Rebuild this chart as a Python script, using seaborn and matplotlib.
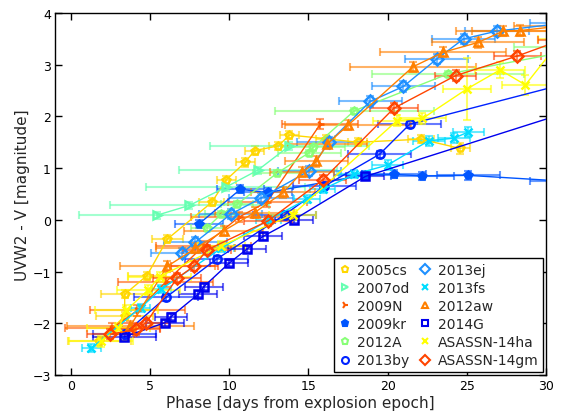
import matplotlib
matplotlib.use("Agg")
import matplotlib.pyplot as plt
from matplotlib.lines import Line2D
import seaborn as sns
import pandas as pd

sns.set_theme(style="ticks")
plt.rcParams['font.family'] = ['DejaVu Sans']
plt.rcParams['xtick.direction'] = 'in'
plt.rcParams['ytick.direction'] = 'in'
plt.rcParams['xtick.top'] = True
plt.rcParams['ytick.right'] = True

names = ["2005cs", "2007od", "2009N", "2009kr", "2012A", "2013by",
         "2013ej", "2013fs", "2012aw", "2014G", "ASASSN-14ha", "ASASSN-14gm"]
colors = ["#FFD700", "#66FFB2", "#FF5A00", "#0055FF", "#88FF77", "#0022FF",
          "#1E90FF", "#00DDFF", "#FF8000", "#0000EE", "#FFFF00", "#FF4400"]
markers = ["p", ">", "4", "p", "p", "o", "D", "x", "^", "s", "x", "D"]
filled = [False, False, True, True, False, False, False, True, False, False, True, False]

x_2005cs = [1.8, 3.4, 3.4, 4.8, 6.1, 8.9, 9.8, 11.0, 11.6, 13.1, 13.8, 16.1, 18.1, 22.1, 24.6]
y_2005cs = [-2.35, -1.86, -1.44, -1.08, -0.37, 0.34, 0.77, 1.11, 1.34, 1.43, 1.64, 1.57, 1.50, 1.56, 1.38]
xe_2005cs = [2.0, 1.8, 1.5, 1.2, 1.0, 0.8, 0.6, 0.6, 0.6, 0.6, 0.6, 0.6, 0.6, 0.8, 0.6]
ye_2005cs = [0.08, 0.08, 0.08, 0.08, 0.08, 0.08, 0.08, 0.08, 0.08, 0.08, 0.08, 0.08, 0.08, 0.08, 0.1]

x_2007od = [5.44, 7.49, 9.77, 11.8, 13.8]
y_2007od = [0.09, 0.28, 0.63, 0.96, 1.43]
xe_2007od = [4.9, 5.0, 5.0, 5.0, 5.0]
ye_2007od = [0.07, 0.07, 0.07, 0.07, 0.07]

x_2009N = [2.6, 4.2, 6.0, 8.4, 10.6, 12.4, 15.75]
y_2009N = [-2.1, -1.75, -1.2, -0.5, 0.05, 0.35, 1.85]
xe_2009N = [3.0, 3.0, 3.0, 3.0, 3.0, 2.5, 2.4]
ye_2009N = [0.1, 0.1, 0.1, 0.1, 0.1, 0.1, 0.1]

x_2009kr = [8.08, 10.7, 12.45, 18.6, 20.4, 22.2, 25.1, 31.0]
y_2009kr = [-0.08, 0.59, 0.53, 0.87, 0.88, 0.85, 0.86, 0.75]
xe_2009kr = [1.5, 1.5, 1.5, 2.0, 2.0, 2.0, 2.0, 2.0]
ye_2009kr = [0.08, 0.08, 0.08, 0.08, 0.08, 0.08, 0.08, 0.08]

x_2012A = [8.6, 9.5, 10.5, 13.0, 15.05, 15.3, 17.9, 23.8, 33.0]
y_2012A = [-0.15, 0.11, 0.30, 0.90, 1.30, 1.40, 2.11, 2.82, 3.35]
xe_2012A = [1.0, 1.0, 1.0, 1.5, 2.0, 2.0, 5.0, 4.8, 5.0]
ye_2012A = [0.06, 0.06, 0.06, 0.06, 0.06, 0.06, 0.06, 0.06, 0.06]

x_2013by = [3.4, 6.0, 9.2, 13.5, 16.0, 19.5, 21.4, 35.0]
y_2013by = [-2.2, -1.5, -0.76, 0.1, 0.65, 1.27, 1.85, 2.93]
xe_2013by = [2.0, 2.0, 2.0, 2.0, 2.0, 2.0, 2.0, 2.0]
ye_2013by = [0.07, 0.07, 0.07, 0.07, 0.07, 0.07, 0.07, 0.07]

x_2013ej = [7.03, 7.87, 10.1, 12.0, 15.05, 16.3, 18.9, 21.0, 23.1, 24.8, 26.9, 31.0]
y_2013ej = [-0.64, -0.43, 0.11, 0.42, 0.95, 1.50, 2.29, 2.58, 3.11, 3.50, 3.65, 3.80]
xe_2013ej = [2.0, 2.0, 2.0, 2.0, 2.0, 2.0, 2.0, 2.0, 2.0, 2.0, 2.0, 2.0]
ye_2013ej = [0.1, 0.1, 0.1, 0.1, 0.1, 0.1, 0.1, 0.1, 0.1, 0.1, 0.1, 0.1]

x_2013fs = [1.3, 4.4, 5.7, 9.5, 12.5, 14.9, 15.9, 17.9, 20.0, 22.6, 24.2, 25.1]
y_2013fs = [-2.48, -1.70, -1.34, -0.55, 0.0, 0.40, 0.59, 0.88, 1.06, 1.53, 1.58, 1.70]
xe_2013fs = [0.6, 0.6, 0.6, 0.8, 0.8, 0.8, 0.8, 1.0, 1.0, 1.0, 1.0, 1.0]
ye_2013fs = [0.08, 0.08, 0.08, 0.08, 0.08, 0.08, 0.08, 0.08, 0.1, 0.1, 0.1, 0.1]

x_2012aw = [3.76, 6.08, 7.87, 9.66, 11.6, 13.4, 14.6, 15.5, 16.2, 17.5, 21.6, 23.5, 25.7, 27.3, 28.35, 31.0]
y_2012aw = [-2.05, -0.90, -0.55, -0.21, 0.14, 0.53, 0.92, 1.13, 1.47, 1.83, 2.96, 3.24, 3.43, 3.65, 3.66, 3.75]
xe_2012aw = [4.0, 3.0, 2.5, 2.5, 2.5, 2.0, 2.0, 2.0, 2.5, 4.0, 4.0, 4.0, 2.9, 3.0, 3.0, 3.0]
ye_2012aw = [0.1, 0.1, 0.1, 0.1, 0.1, 0.1, 0.1, 0.1, 0.1, 0.1, 0.1, 0.1, 0.1, 0.1, 0.1, 0.1]

x_2014G = [3.38, 5.93, 6.33, 8.04, 8.4, 9.98, 11.1, 12.13, 14.06, 18.6, 40.0]
y_2014G = [-2.26, -1.99, -1.87, -1.44, -1.29, -0.84, -0.57, -0.32, 0.0, 0.84, 2.92]
xe_2014G = [2.0, 1.2, 1.0, 1.2, 1.2, 1.2, 1.2, 1.2, 1.2, 1.2, 1.2]
ye_2014G = [0.06, 0.06, 0.06, 0.06, 0.06, 0.06, 0.06, 0.06, 0.06, 0.06, 0.06]

x_14ha = [1.9, 3.0, 3.5, 4.9, 5.6, 9.5, 14.0, 20.6, 22.2, 25.0, 27.1, 28.7, 31.0]
y_14ha = [-2.35, -2.1, -1.75, -1.35, -1.1, -0.5, 0.1, 1.92, 1.96, 2.53, 2.90, 2.61, 3.5]
xe_14ha = [2.0, 2.0, 2.0, 2.0, 2.0, 1.5, 1.5, 1.5, 1.5, 1.5, 1.6, 1.5, 1.5]
ye_14ha = [0.1, 0.1, 0.1, 0.1, 0.1, 0.1, 0.1, 0.1, 0.1, 0.6, 0.15, 0.2, 0.2]

x_14gm = [2.49, 4.14, 4.75, 6.7, 7.8, 8.6, 12.45, 15.9, 20.4, 24.3, 28.2, 31.0]
y_14gm = [-2.21, -2.12, -1.99, -1.13, -0.89, -0.58, -0.02, 0.77, 2.16, 2.79, 3.17, 3.48]
xe_14gm = [1.5, 1.5, 1.5, 1.5, 1.5, 1.5, 1.5, 1.5, 1.5, 1.3, 1.5, 1.5]
ye_14gm = [0.1, 0.1, 0.1, 0.1, 0.1, 0.1, 0.1, 0.1, 0.1, 0.1, 0.1, 0.1]

series = [
    (x_2005cs, y_2005cs, xe_2005cs, ye_2005cs),
    (x_2007od, y_2007od, xe_2007od, ye_2007od),
    (x_2009N, y_2009N, xe_2009N, ye_2009N),
    (x_2009kr, y_2009kr, xe_2009kr, ye_2009kr),
    (x_2012A, y_2012A, xe_2012A, ye_2012A),
    (x_2013by, y_2013by, xe_2013by, ye_2013by),
    (x_2013ej, y_2013ej, xe_2013ej, ye_2013ej),
    (x_2013fs, y_2013fs, xe_2013fs, ye_2013fs),
    (x_2012aw, y_2012aw, xe_2012aw, ye_2012aw),
    (x_2014G, y_2014G, xe_2014G, ye_2014G),
    (x_14ha, y_14ha, xe_14ha, ye_14ha),
    (x_14gm, y_14gm, xe_14gm, ye_14gm),
]

fig = plt.figure(figsize=(5.62, 4.14), dpi=100)
ax = fig.add_axes([55 / 562, 1 - 376 / 414, 491 / 562, 362 / 414])

handles = []
for name, col, mk, fl, (xs, ys, xe, ye) in zip(names, colors, markers, filled, series):
    df = pd.DataFrame({"x": xs, "y": ys})
    ax.errorbar(xs, ys, xerr=xe, yerr=ye, fmt="none", ecolor=col,
                elinewidth=1.5, capsize=3, capthick=1.5, alpha=0.6, zorder=2)
    kw = dict(marker=mk, markersize=6, markeredgewidth=1.8, markeredgecolor=col,
              markerfacecolor=(col if fl else "none"))
    sns.lineplot(data=df, x="x", y="y", sort=False, estimator=None, color=col,
                 linewidth=1.0, ax=ax, zorder=3, **kw)
    hk = dict(marker=mk, markersize=5, markeredgewidth=1.5, markeredgecolor=col,
              markerfacecolor=(col if fl else "none"))
    handles.append(Line2D([], [], linestyle="none", color=col, **hk))

ax.set_xlim(-1, 30)
ax.set_ylim(-3, 4)
ax.set_xticks([0, 5, 10, 15, 20, 25, 30])
ax.set_yticks([-3, -2, -1, 0, 1, 2, 3, 4])
ax.set_xlabel("Phase [days from explosion epoch]", fontsize=11, labelpad=2)
ax.set_ylabel("UVW2 - V [magnitude]", fontsize=11, labelpad=2)
ax.tick_params(axis="both", which="major", length=5, width=1, labelsize=9,
               direction="in", top=True, right=True, colors="black", pad=3)
for sp in ax.spines.values():
    sp.set_color("black")
    sp.set_linewidth(1.0)

leg = ax.legend(handles, names, loc="lower right", ncol=2, fontsize=10,
                frameon=True, fancybox=False, edgecolor="black", framealpha=1,
                handlelength=1.0, handletextpad=0.4, columnspacing=0.6,
                borderaxespad=0.25, borderpad=0.3, labelspacing=0.3, numpoints=1)
leg.get_frame().set_linewidth(1.0)

fig.savefig("out.png", dpi=100)
